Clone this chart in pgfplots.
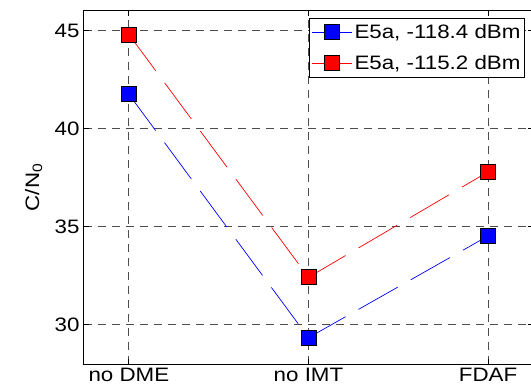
\documentclass[border=0pt]{standalone}
\usepackage{pgfplots}
\pgfplotsset{compat=1.18}
\usepackage{fontspec}
\setmainfont{Liberation Sans}[FakeStretch=1.15]
\begin{document}
\begin{tikzpicture}[font=\fontsize{19.5}{22}\selectfont]
\begin{axis}[
  scale only axis, width=449bp, height=353bp,
  xmin=-0.25, xmax=2.25, ymin=28, ymax=46,
  xtick={0,1,2}, xticklabels={no DME, no IMT, FDAF},
  ytick={30,35,40,45},
  /pgf/number format/assume math mode=true,
  tick align=inside, major tick length=5bp,
  tick style={black, line width=0.8bp},
  grid=major,
  grid style={dash pattern=on 8bp off 6bp, black!70, line width=0.9bp},
  axis line style={line width=1bp},
  ylabel={C/N\textsubscript{0}},
  every axis y label/.style={at={(axis cs:-0.53,37)}, rotate=90, anchor=center},
  xticklabel style={yshift=-1bp},
  yticklabel style={xshift=-1bp},
  legend style={at={(1,1)}, anchor=north east, xshift=-8bp, yshift=-7bp,
    draw=black, line width=1bp, fill=white, inner xsep=2bp, inner ysep=4bp, row sep=11.5bp,
    nodes={inner sep=2bp}},
  legend cell align=left,
  legend image code/.code={
    \draw[#1, solid, mark repeat=2, mark phase=2] plot coordinates {(0bp,0bp) (20bp,0bp) (40bp,0bp)};
  },
]
\addplot[blue, line width=0.7bp, dash pattern=on 45bp off 15bp, mark=square*,
  mark options={solid, fill=blue, draw=black, line width=0.8bp}, mark size=7.5bp]
  coordinates {(0,41.75) (1,29.34) (2,34.53)};
\addplot[red, line width=0.7bp, dash pattern=on 45bp off 15bp, mark=square*,
  mark options={solid, fill=red, draw=black, line width=0.8bp}, mark size=7.5bp]
  coordinates {(0,44.8) (1,32.42) (2,37.8)};
\legend{{E5a, -118.4 dBm},{E5a, -115.2 dBm}}
\end{axis}
\pgfresetboundingbox
\path[use as bounding box] ([shift={(-84bp,-27bp)}]current axis.south west) rectangle ([shift={(447bp,11bp)}]current axis.north west);
\end{tikzpicture}
\end{document}
